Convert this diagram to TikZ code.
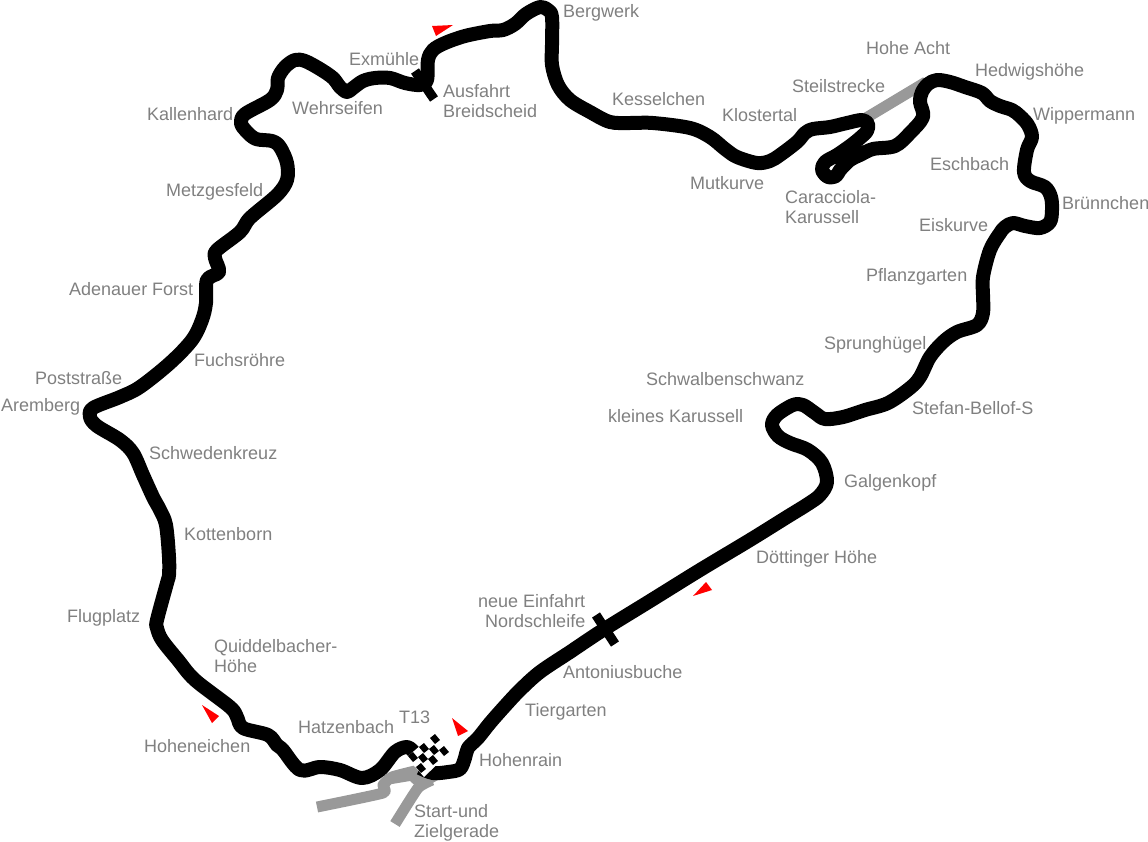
\documentclass[tikz,border=0pt]{standalone}
\usepackage{fontspec}
\setmainfont{Liberation Sans}
\usepackage{tikz}
\definecolor{textgrey}{HTML}{808080}
\definecolor{roadgrey}{HTML}{999999}
\tikzstyle{track}=[line width=14pt,black,line join=round,line cap=butt]
\tikzstyle{access}=[line width=11pt,roadgrey,line join=round]
\tikzstyle{crossbar}=[line width=9.5pt,black]
\tikzstyle{place}=[inner sep=0pt,anchor=base west,text=textgrey,font=\fontsize{18}{20}\selectfont,align=left]
\tikzstyle{marker}=[fill=red,draw=none]
\begin{document}
\begin{tikzpicture}[x=1pt,y=-1pt]
\useasboundingbox (0,0) rectangle (1148,841);
%Access roads
\draw[access] (866,118) -- (926,82);
\draw[access] plot[smooth,tension=0.3] coordinates {(317,807) (383,793) (383,785) (392,777) (415,771)};
\draw[access] plot[smooth,tension=0.3] coordinates {(395,824) (418,788) (432,780)};
\fill[roadgrey] (390,775) -- (416,766) -- (438,780) -- (420,790) -- (410,781) -- (392,784) -- cycle;
%Circuit
\draw[track] plot[smooth,tension=0.55] coordinates {
(420,768) (433,773) (448,772) (460,769) (465,758) (468,748) (478,738) (490,723) (505,706) (520,690)
(540,672) (570,652) (603,630) (650,601) (700,570) (750,540) (787,517) (808,504) (820,495) (827,482)
(822,463) (808,450) (790,443) (778,436) (772,425) (777,415) (793,405) (803,405) (815,413) (825,419)
(843,417) (865,410) (888,403) (910,388) (920,377) (930,357) (943,342) (957,332) (977,325) (983,313)
(983,295) (983,277) (990,250) (1000,233) (1005,227) (1013,223) (1025,226) (1040,228) (1050,222) (1052,210)
(1051,197) (1045,187) (1030,181) (1024,172) (1027,150) (1032,137) (1028,125) (1020,116) (1012,110) (1000,106)
(990,101) (982,93) (965,87) (950,82) (937,80) (928,84) (922,92) (920,102) (923,117) (910,133)
(895,146) (873,149) (860,155) (850,160) (840,170) (836,176) (828,177) (822,170) (825,162) (837,155)
(850,146) (860,138) (867,131) (868,124) (862,120) (847,123) (830,127) (813,129) (805,133) (797,142)
(780,155) (770,161) (757,163) (737,157) (725,149) (710,137) (690,128) (653,123) (630,123) (610,122)
(590,112) (570,100) (558,85) (552,65) (552,45) (552,17) (548,10) (540,7) (526,14) (515,24)
(503,30) (490,31) (465,36) (445,43) (433,50) (428,60) (427,80) (420,85) (405,83) (390,78)
(375,78) (363,81) (353,88) (347,92) (340,87) (333,78) (320,69) (305,61) (295,60) (285,67)
(278,78) (277,90) (270,100) (245,114) (241,123) (246,131) (256,139) (272,141) (280,147) (287,163)
(287,180) (277,195) (250,218) (240,232) (217,250) (215,258) (219,272) (207,280) (206,303) (202,320)
(192,340) (170,363) (140,387) (120,397) (93,408) (90,417) (97,426) (120,440) (133,453) (143,475)
(153,497) (160,510) (166,525) (169,557) (169,575) (167,583) (157,620) (157,628) (162,640) (178,660)
(195,680) (230,707) (237,717) (243,728) (268,735) (277,745) (283,750) (300,770) (320,767) (340,770)
(362,778) (380,770) (395,752) (407,747) (414,752)};
\draw[crossbar] (596,615) -- (615,644);
\draw[crossbar] (415,71) -- (434,99);
%Start flag
\fill[white] (435,733) -- (450,752) -- (424,777) -- (407,757) -- cycle;
\foreach \cx/\cy in {435/739,424/748,434/750,444/751,413/757,423/758,433/760,421/768}
  \fill[black] (\cx+5,\cy+1) -- (\cx,\cy+5) -- (\cx-5,\cy-1) -- (\cx,\cy-5) -- cycle;
%Direction marks
\fill[marker] (432,26) -- (453,25) -- (436,36) -- cycle;
\fill[marker] (693,596) -- (706,582) -- (712,590) -- cycle;
\fill[marker] (452,718) -- (468,731) -- (458,736) -- cycle;
\fill[marker] (202,705) -- (219,716) -- (212,723) -- cycle;
%Place names
\node[place] (bergwerk) at (563,17) {Bergwerk};
\node[place] (hoheacht) at (866,54) {Hohe Acht};
\node[place] (hedwig) at (975,76) {Hedwigshöhe};
\node[place] (steil) at (792,92) {Steilstrecke};
\node[place] (exmuehle) at (349,65) {Exmühle};
\node[place] (ausfahrt) at (443,117) {Ausfahrt\\Breidscheid};
\node[place] (kessel) at (612,105) {Kesselchen};
\node[place] (kloster) at (722,121) {Klostertal};
\node[place] (wipper) at (1033,120) {Wippermann};
\node[place] (wehr) at (292,114) {Wehrseifen};
\node[place] (kallen) at (147,120) {Kallenhard};
\node[place] (esch) at (930,170) {Eschbach};
\node[place] (mut) at (690,189) {Mutkurve};
\node[place] (carac) at (785,223) {Caracciola-\\Karussell};
\node[place] (metz) at (166,196) {Metzgesfeld};
\node[place] (bruenn) at (1062,209) {Brünnchen};
\node[place] (eis) at (919,231) {Eiskurve};
\node[place] (pflanz) at (866,281) {Pflanzgarten};
\node[place] (adenauer) at (69,295) {Adenauer Forst};
\node[place] (sprung) at (824,349) {Sprunghügel};
\node[place] (fuchs) at (194,366) {Fuchsröhre};
\node[place] (post) at (35,384) {Poststraße};
\node[place] (schwalb) at (646,385) {Schwalbenschwanz};
\node[place] (arem) at (1,411) {Aremberg};
\node[place] (bellof) at (912,414) {Stefan-Bellof-S};
\node[place] (kleines) at (608,422) {kleines Karussell};
\node[place] (schweden) at (149,459) {Schwedenkreuz};
\node[place] (galgen) at (844,487) {Galgenkopf};
\node[place] (kotten) at (184,540) {Kottenborn};
\node[place] (doett) at (756,563) {Döttinger Höhe};
\node[place,align=right] (einfahrt) at (478,627) {neue Einfahrt\\Nordschleife};
\node[place] (flug) at (67,622) {Flugplatz};
\node[place] (quiddel) at (214,672) {Quiddelbacher-\\Höhe};
\node[place] (anton) at (563,678) {Antoniusbuche};
\node[place] (tier) at (525,716) {Tiergarten};
\node[place] (hatzen) at (298,733) {Hatzenbach};
\node[place] (tdreizehn) at (399,723) {T13};
\node[place] (hohen) at (144,752) {Hoheneichen};
\node[place] (rain) at (479,766) {Hohenrain};
\node[place] (start) at (414,837) {Start-und\\Zielgerade};
\end{tikzpicture}
\end{document}
